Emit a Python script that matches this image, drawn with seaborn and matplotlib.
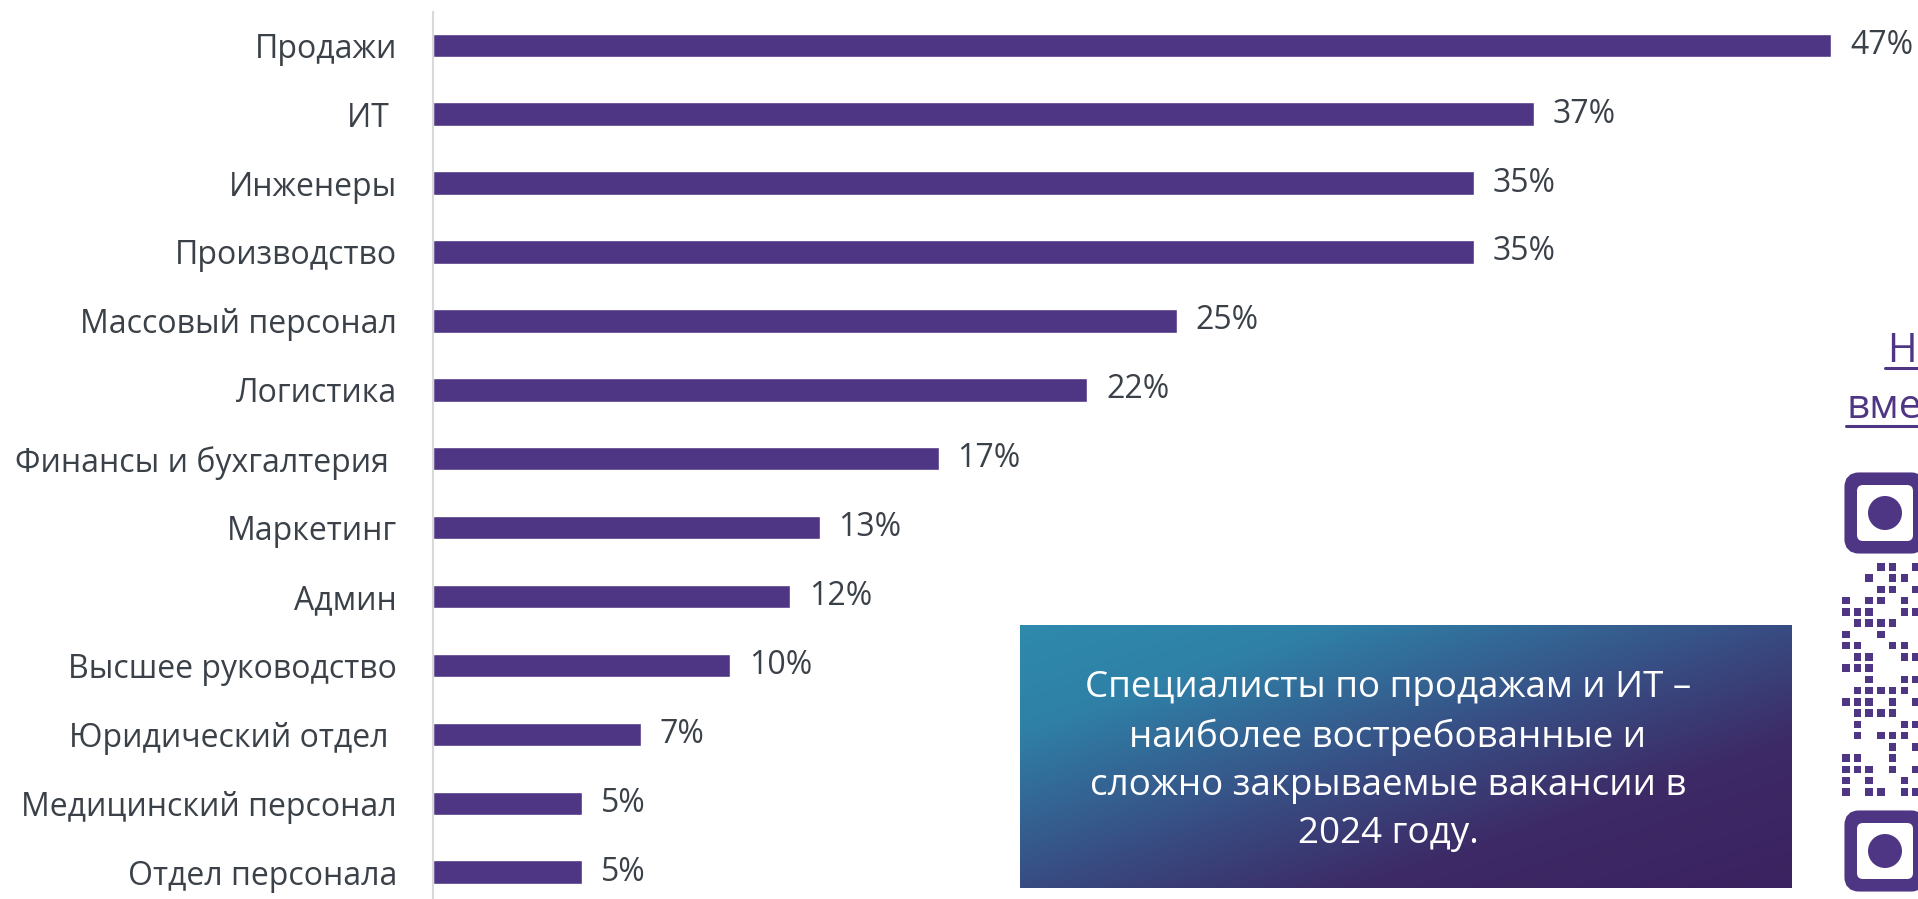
import numpy as np
import pandas as pd
import matplotlib
matplotlib.use("Agg")
import matplotlib.pyplot as plt
import seaborn as sns
from matplotlib.colors import LinearSegmentedColormap
from matplotlib.patches import FancyBboxPatch, Circle, Rectangle

# data
categories = ["Продажи", "ИТ ", "Инженеры", "Производство", "Массовый персонал",
              "Логистика", "Финансы и бухгалтерия ", "Маркетинг", "Админ",
              "Высшее руководство", "Юридический отдел ", "Медицинский персонал",
              "Отдел персонала"]
shares = [47, 37, 35, 35, 25, 22, 17, 13, 12, 10, 7, 5, 5]

callout_lines = ["Специалисты по продажам и ИТ –",
                 "наиболее востребованные и",
                 "сложно закрываемые вакансии в",
                 "2024 году."]
link_lines = ["На", "вме"]

# visible strip of the qr code (between the two finder squares)
qr_rows = ["0001101", "0010110", "0001101", "1011010", "1110011", "0111100",
           "1001000", "1100110", "0110011", "1110000", "0010011", "0111110",
           "1110101", "0111100", "0100011", "0101110", "0000101", "1100100",
           "1110101", "1010010", "1011011"]

BAR = "#4F3684"
TEXT = "#3B4148"
W, H = 1918, 899

sns.set_theme(style="white")
plt.rcParams["font.family"] = ["Open Sans", "DejaVu Sans"]

fig = plt.figure(figsize=(W / 100, H / 100), dpi=100)
ax = fig.add_axes([433 / W, 0, 1 - 433 / W, (H - 12) / H])

df = pd.DataFrame({"category": categories, "share": shares})
sns.barplot(data=df, y="category", x="share", color=BAR, saturation=1,
            width=0.34, orient="h", ax=ax)
ax.set_xlim(0, 49.92)
ax.set_ylim(12.39, -0.483)
ax.set_xticks([])
ax.set_xlabel("")
ax.set_ylabel("")
ax.tick_params(axis="y", length=0, pad=26, labelsize=23, labelcolor=TEXT)
for side in ["top", "right", "bottom"]:
    ax.spines[side].set_visible(False)
ax.spines["left"].set_color("#D9D9D9")
ax.spines["left"].set_linewidth(1.5)
ax.bar_label(ax.containers[0], labels=[f"{v}%" for v in shares],
             padding=13.5, fontsize=23, color=TEXT)

# overlay in pixel coordinates for the callout box and the qr strip
ov = fig.add_axes([0, 0, 1, 1], zorder=5)
ov.set_xlim(0, W)
ov.set_ylim(H, 0)
ov.axis("off")
ov.patch.set_alpha(0)

bx0, bx1, by0, by1 = 1020, 1792, 625, 888
u, v = np.meshgrid(np.linspace(0, 1, 400), np.linspace(0, 1, 140))
grad = LinearSegmentedColormap.from_list(
    "callout", [(0, "#2E8AAD"), (0.2, "#2F80A7"), (0.5, "#384C82"),
                (0.72, "#3D2A66"), (1, "#3B2260")])
ov.imshow((u + v) / 2, cmap=grad, vmin=0, vmax=1, aspect="auto",
          extent=(bx0, bx1, by1, by0), interpolation="bilinear")
ov.text(1388, 761, "\n".join(callout_lines), ha="center", va="center",
        fontsize=26.5, color="white", linespacing=1.45)

# underlined link text, cut by the right edge
ov.text(1887, 362, link_lines[0], fontsize=29, color=BAR, va="baseline")
ov.text(1847, 418, link_lines[1], fontsize=29, color=BAR, va="baseline")
ov.plot([1885, W], [368, 368], color=BAR, lw=2.2)
ov.plot([1846, W], [426, 426], color=BAR, lw=2.2)

# finder squares
for top in [474, 812]:
    ov.add_patch(FancyBboxPatch((1846 + 4, top + 4), 70, 70,
                                boxstyle="round,pad=0,rounding_size=9",
                                fc=BAR, ec=BAR, lw=8))
    ov.add_patch(FancyBboxPatch((1857, top + 11), 56, 56,
                                boxstyle="round,pad=0,rounding_size=6",
                                fc="white", ec="none"))
    ov.add_patch(Circle((1885, top + 39), 17, fc=BAR, ec="none"))

for r, row in enumerate(qr_rows):
    for c, cell in enumerate(row):
        if cell == "1":
            ov.add_patch(Rectangle((1842 + c * 11.7, 563 + r * 11.25), 7.5, 7.5,
                                   fc=BAR, ec="none"))

fig.savefig("out.png", dpi=100)
